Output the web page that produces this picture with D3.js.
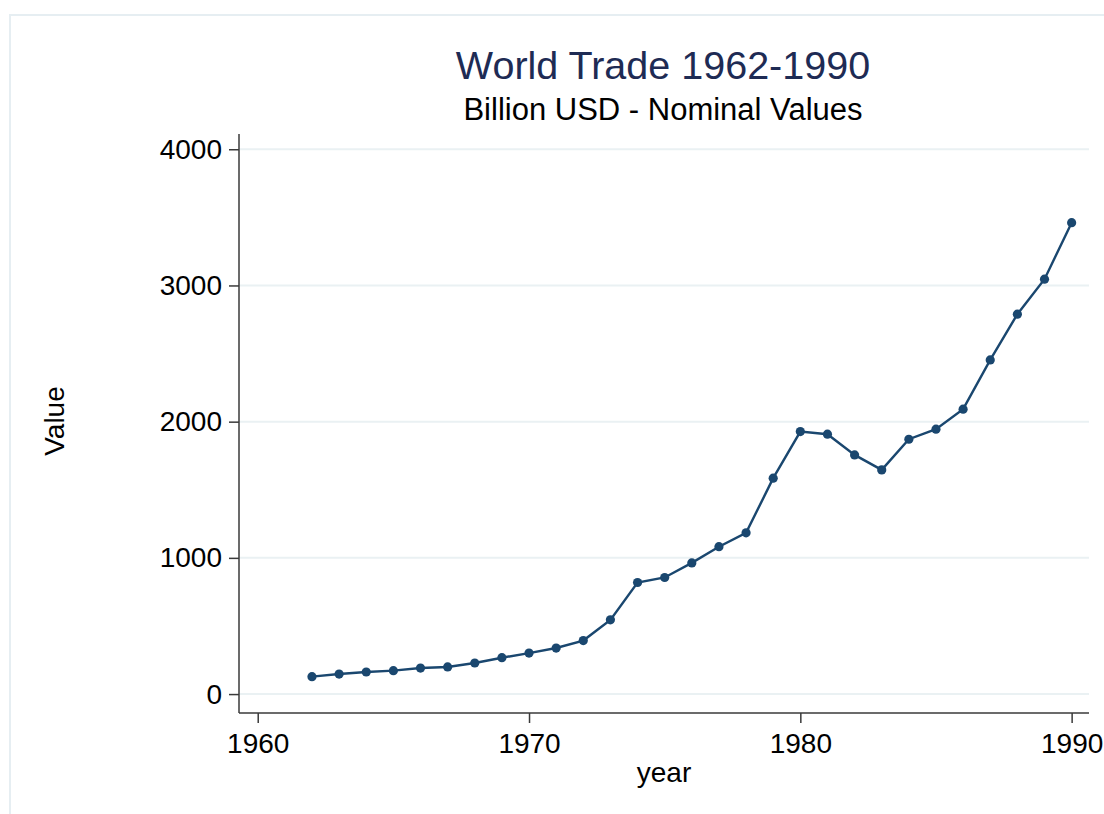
<!DOCTYPE html>
<html>
<head>
<meta charset="utf-8">
<script src="https://cdn.jsdelivr.net/npm/d3@7"></script>
<style>
  html, body { margin: 0; padding: 0; background: #ffffff; }
  svg { display: block; font-family: "Liberation Sans", Arial, sans-serif; }
</style>
</head>
<body>
<svg id="chart" width="1104" height="814"></svg>
<script>
const years = [1962,1963,1964,1965,1966,1967,1968,1969,1970,1971,1972,1973,1974,1975,1976,1977,1978,1979,1980,1981,1982,1983,1984,1985,1986,1987,1988,1989,1990];
const values = [128,147,162,172,191,199,228,267,301,338,393,545,819,856,963,1082,1184,1585,1927,1908,1756,1646,1871,1945,2092,2453,2789,3046,3461];
const xTicks = [1960,1970,1980,1990];
const yTicks = [0,1000,2000,3000,4000];
const titleText = "World Trade 1962-1990";
const subtitleText = "Billion USD - Nominal Values";
const xLabel = "year";
const yLabel = "Value";

const svg = d3.select("#chart");
const W = 1104, H = 814;
const plot = {left: 239, right: 1089, top: 134, bottom: 713};

// outer frame (only top/left edges visible in the picture)
svg.append("rect").attr("x", 10).attr("y", 15).attr("width", W + 20).attr("height", H + 20)
  .attr("fill", "#ffffff").attr("stroke", "#e6eef2").attr("stroke-width", 2);

const x = d3.scaleLinear().domain([1959.31, 1990.64]).range([plot.left, plot.right]);
const y = d3.scaleLinear().domain([-139, 4112]).range([plot.bottom, plot.top]);

// gridlines
svg.append("g").selectAll("line").data(yTicks).join("line")
  .attr("x1", plot.left).attr("x2", plot.right)
  .attr("y1", d => y(d)).attr("y2", d => y(d))
  .attr("stroke", "#eaf1f3").attr("stroke-width", 2);

// axes
const yAxis = svg.append("g").attr("transform", `translate(${plot.left},0)`)
  .call(d3.axisLeft(y).tickValues(yTicks).tickSize(10).tickPadding(7).tickFormat(d3.format("d")));
const xAxis = svg.append("g").attr("transform", `translate(0,${plot.bottom})`)
  .call(d3.axisBottom(x).tickValues(xTicks).tickSize(10).tickPadding(10).tickFormat(d3.format("d")));

[yAxis, xAxis].forEach(a => {
  a.select(".domain").attr("stroke", "#3a3a3a").attr("stroke-width", 1.5);
  a.selectAll(".tick line").attr("stroke", "#3a3a3a").attr("stroke-width", 1.5);
  a.selectAll(".tick text").attr("fill", "#000").style("font-size", "28px")
    .style("font-family", "'Liberation Sans', Arial, sans-serif");
});
yAxis.select(".domain").attr("d", `M0,${plot.top}V${plot.bottom}`);
xAxis.select(".domain").attr("d", `M${plot.left},0H${plot.right}`);

// line
const line = d3.line().x((d, i) => x(years[i])).y(d => y(d));
svg.append("path").datum(values).attr("d", line)
  .attr("fill", "none").attr("stroke", "#1a476f").attr("stroke-width", 2.4);
svg.append("g").selectAll("circle").data(values).join("circle")
  .attr("cx", (d, i) => x(years[i])).attr("cy", d => y(d)).attr("r", 4.6)
  .attr("fill", "#1a476f");

// titles
svg.append("text").attr("x", 663).attr("y", 79).attr("text-anchor", "middle")
  .style("font-size", "39.5px").attr("fill", "#1e2b54").text(titleText);
svg.append("text").attr("x", 663).attr("y", 120).attr("text-anchor", "middle")
  .style("font-size", "31px").attr("fill", "#000").text(subtitleText);
svg.append("text").attr("x", 664).attr("y", 782).attr("text-anchor", "middle")
  .style("font-size", "28px").attr("fill", "#000").text(xLabel);
svg.append("text").attr("transform", "translate(64,421) rotate(-90)").attr("text-anchor", "middle")
  .style("font-size", "28px").attr("fill", "#000").text(yLabel);
</script>
</body>
</html>
